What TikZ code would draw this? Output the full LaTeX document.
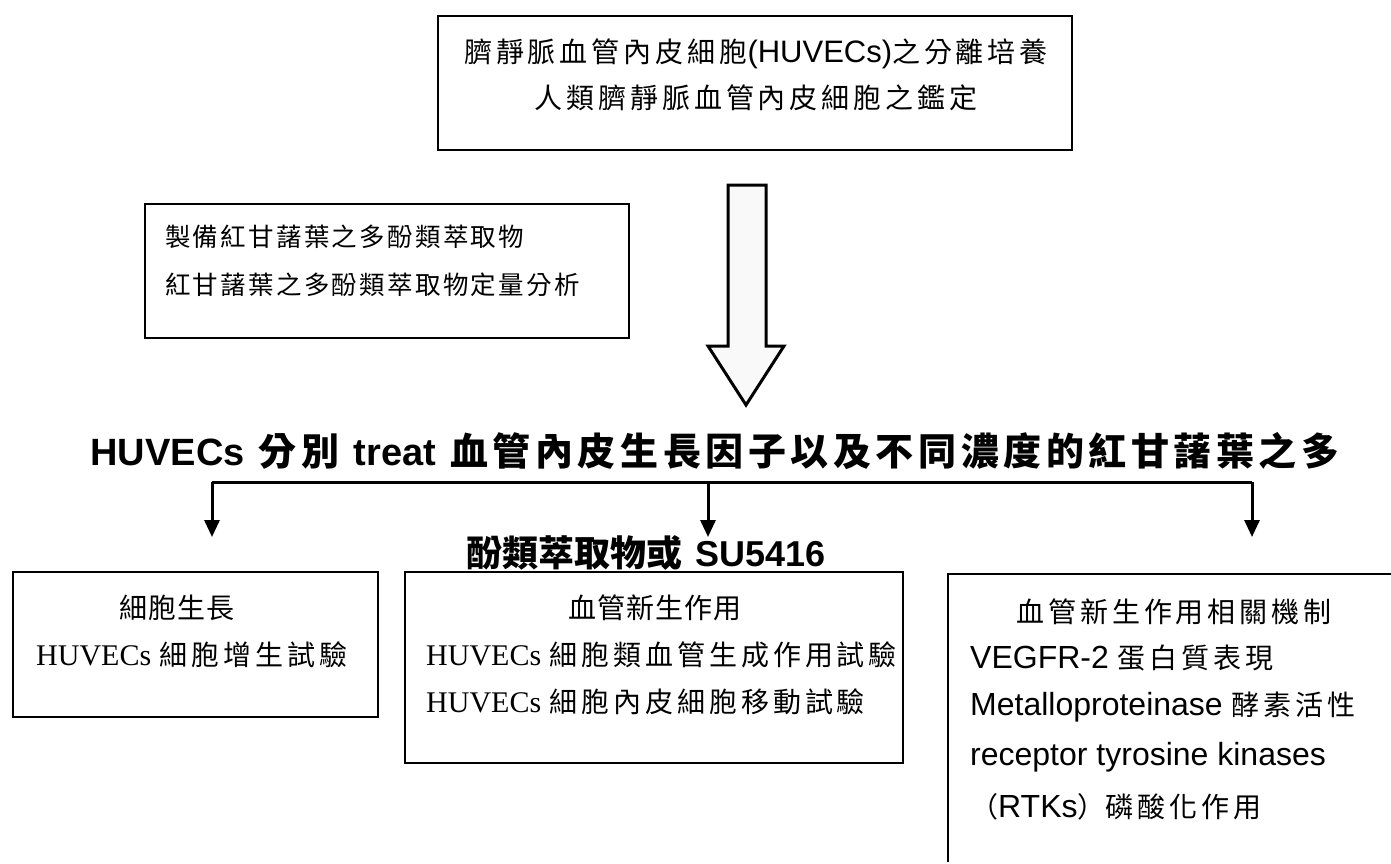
\documentclass[tikz,border=0pt]{standalone}
\usepackage{fontspec}
\usetikzlibrary{arrows.meta}
\newfontfamily\cjk{Noto Sans CJK TC}
\newfontfamily\cjkb{Noto Sans CJK TC Bold}
\newfontfamily\arial{Liberation Sans}
\newfontfamily\tnr{Liberation Serif}
\newcommand{\ck}[1]{{\cjk\addfontfeature{LetterSpace=14}#1}}
\newcommand{\ckt}[1]{{\cjk\addfontfeature{LetterSpace=4}#1}}
\newcommand{\ckb}[1]{{\cjkb\addfontfeature{LetterSpace=12}#1}}
\tikzset{
  txt/.style={inner sep=0pt, font=\fontsize{28}{46}\selectfont},
  head/.style={inner sep=0pt, font=\fontsize{38}{44}\selectfont\bfseries},
  frame/.style={line width=2.5pt},
  br/.style={line width=3pt},
  tri/.style={-{Triangle[length=17pt,width=15pt]}, line width=3pt}
}
\begin{document}
\begin{tikzpicture}[x=1pt,y=-1pt]
\useasboundingbox (0,0) rectangle (1391,863);
\fill[white] (0,0) rectangle (1391,863);
% boxes
\draw[frame] (438,16) rectangle (1072,150);
\node[inner sep=0pt] (topbox) at (755,83) {};
\draw[frame] (145,204) rectangle (629,338);
\node[inner sep=0pt] (prepbox) at (387,271) {};
\draw[frame] (13,572) rectangle (378,717);
\node[inner sep=0pt] (boxA) at (195,644) {};
\draw[frame] (405,572) rectangle (903,763);
\node[inner sep=0pt] (boxB) at (654,667) {};
\draw[frame] (948,862) -- (948,574) -- (1391,574);

% top box text
\node[txt, align=center] (t1) at (756,75) {\ck{臍靜脈血管內皮細胞}{\fontsize{31}{46}\selectfont\arial(HUVECs)}\ck{之分離培養}\\\ck{人類臍靜脈血管內皮細胞之鑑定}};
% prep box text
\node[inner sep=0pt, font=\fontsize{25.5}{48}\selectfont\cjk\addfontfeature{LetterSpace=9}, align=left, anchor=west] (t2) at (165,261) {製備紅甘藷葉之多酚類萃取物\\紅甘藷葉之多酚類萃取物定量分析};

% big arrow
\draw[line width=3pt, fill=gray!5, line join=miter]
  (728,185) -- (766,185) -- (766,346) -- (784,346) -- (746,405) -- (708,346) -- (728,346) -- cycle;

% heading
\node[head] (h1) at (715,451) {{\arial HUVECs} \ckb{分別} {\arial treat} \ckb{血管內皮生長因子以及不同濃度的紅甘藷葉之多}};
\node[head, font=\fontsize{36}{44}\selectfont\bfseries] (h2) at (646,553) {{\cjkb 酚類萃取物或} {\arial SU5416}};

% bracket
\coordinate (bL) at (212,482);
\coordinate (bM) at (708,482);
\coordinate (bR) at (1252,482);
\coordinate (aL) at (212,537);
\coordinate (aM) at (708,537);
\coordinate (aR) at (1252,537);
\draw[br] (bL) -- (bR);
\draw[tri] (bL) -- (aL);
\draw[tri] (bM) -- (aM);
\draw[tri] (bR) -- (aR);

% box A text
\node[txt] (a1) at (177,608) {\ckt{細胞生長}};
\node[txt, anchor=west] (a2) at (36,655) {{\fontsize{30}{46}\selectfont\tnr HUVECs} \ck{細胞增生試驗}};
% box B text
\node[txt] (b1) at (655,608) {\ckt{血管新生作用}};
\node[txt, anchor=west] (b2) at (426,655) {{\fontsize{30}{46}\selectfont\tnr HUVECs} \ck{細胞類血管生成作用試驗}};
\node[txt, anchor=west] (b3) at (426,702) {{\fontsize{30}{46}\selectfont\tnr HUVECs} \ck{細胞內皮細胞移動試驗}};
% box C text
\node[txt] (c1) at (1174,612) {\ck{血管新生作用相關機制}};
\node[txt, anchor=west] (c2) at (970,658) {{\fontsize{32}{46}\selectfont\arial VEGFR-2} \ck{蛋白質表現}};
\node[txt, anchor=west] (c3) at (970,707) {{\fontsize{32}{46}\selectfont\arial Metalloproteinase} \ck{酵素活性}};
\node[txt, anchor=west] (c4) at (970,757) {{\fontsize{32}{46}\selectfont\arial receptor tyrosine kinases}};
\node[txt, anchor=west] (c5) at (970,807) {{\cjk （}{\fontsize{32}{46}\selectfont\arial RTKs}{\cjk ）}\ck{磷酸化作用}};
\end{tikzpicture}
\end{document}
